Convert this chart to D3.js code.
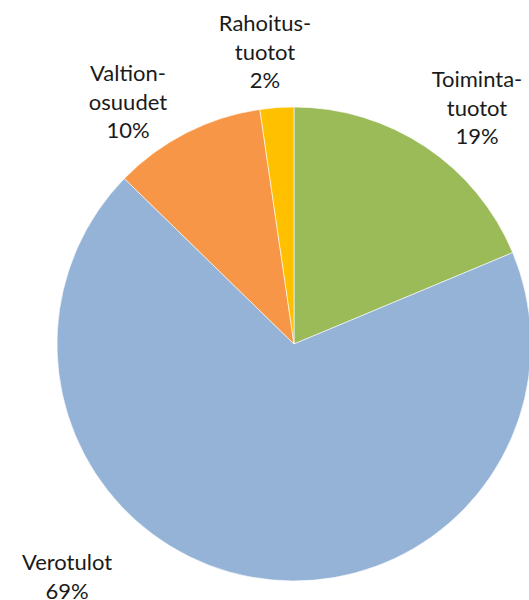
<!DOCTYPE html>
<html>
<head>
<meta charset="utf-8">
<script src="https://cdn.jsdelivr.net/npm/d3@7"></script>
<style>
  body { margin: 0; background: #fff; }
  text { font-family: Lato, "Noto Sans", sans-serif; fill: #1a1a1a; }
</style>
</head>
<body>
<div id="chart"></div>
<script>
// order clockwise from 12 o'clock
var categories = ["Toiminta-\ntuotot", "Verotulot", "Valtion-\nosuudet", "Rahoitus-\ntuotot"];
var values = [18.7, 68.6, 10.4, 2.3];
var colors = ["#9BBB59", "#95B3D7", "#F79646", "#FFC000"];
// label anchor (centre of first line baseline) relative to pie centre
var labelOffsets = [[183, -257], [-227, 226], [-166, -263], [-29, -313]];

var width = 529, height = 600;
var cx = 294, cy = 344, radius = 237;

var data = categories.map(function (c, i) {
    return {name: c, value: values[i], color: colors[i], off: labelOffsets[i]};
});

var svg = d3.select("#chart")
    .append("svg")
    .attr("width", width)
    .attr("height", height);

var g = svg.append("g")
    .attr("transform", "translate(" + cx + "," + cy + ")");

var pie = d3.pie()
    .sort(null)
    .value(function (d) { return d.value; });

var arc = d3.arc()
    .innerRadius(0)
    .outerRadius(radius);

var total = d3.sum(values);

g.selectAll("path")
    .data(pie(data))
    .enter()
    .append("path")
    .attr("d", arc)
    .style("fill", function (d) { return d.data.color; })
    .style("stroke", "#fff")
    .style("stroke-width", 0.6);

var labels = g.selectAll(".lbl")
    .data(pie(data))
    .enter()
    .append("text")
    .attr("class", "lbl")
    .attr("text-anchor", "middle")
    .style("font-size", "22px")
    .attr("transform", function (d) {
        return "translate(" + d.data.off[0] + "," + d.data.off[1] + ")";
    });

labels.each(function (d) {
    var lines = d.data.name.split("\n");
    lines.push(Math.round(d.data.value / total * 100) + "%");
    var t = d3.select(this);
    lines.forEach(function (l, i) {
        t.append("tspan")
            .attr("x", 0)
            .attr("y", i * 28.5)
            .text(l);
    });
});
</script>
</body>
</html>
